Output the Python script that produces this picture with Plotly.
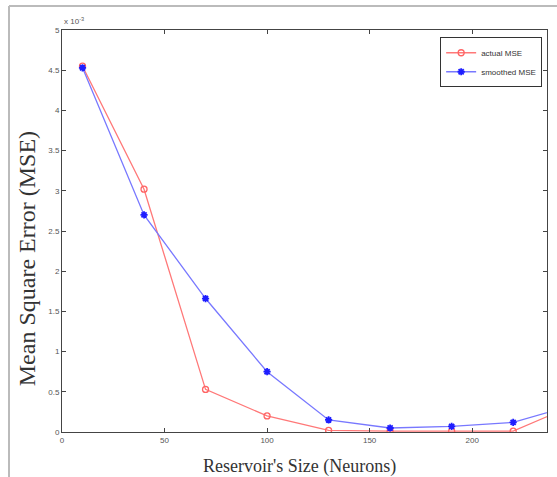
import plotly.graph_objects as go

neurons = [10, 40, 70, 100, 130, 160, 190, 220, 250]
actual_mse = [4.55, 3.02, 0.53, 0.20, 0.02, 0.01, 0.01, 0.01, 0.34]   # x 10^-3
smoothed_mse = [4.53, 2.70, 1.66, 0.75, 0.15, 0.05, 0.07, 0.12, 0.34]  # x 10^-3

x_ticks = [0, 50, 100, 150, 200]
y_ticks = [0, 0.5, 1, 1.5, 2, 2.5, 3, 3.5, 4, 4.5, 5]

fig = go.Figure()
fig.add_trace(go.Scatter(
    x=neurons, y=actual_mse, name="actual MSE", mode="lines+markers",
    line=dict(color="rgb(255,120,120)", width=1.3),
    marker=dict(symbol="circle-open", size=6, color="rgb(255,100,100)", line=dict(width=1.3)),
))
fig.add_trace(go.Scatter(
    x=neurons, y=smoothed_mse, name="smoothed MSE", mode="lines+markers",
    line=dict(color="rgb(120,120,255)", width=1.3),
    marker=dict(symbol="asterisk-open", size=6, color="rgb(30,30,255)",
                line=dict(width=1.8, color="rgb(30,30,255)")),
))

axis_common = dict(
    showgrid=False, zeroline=False, showline=True, linecolor="#444", linewidth=1,
    mirror="allticks", ticks="inside", ticklen=4, tickcolor="#444",
    tickfont=dict(family="Arial", size=8, color="#555"),
)
fig.update_xaxes(range=[0, 236.5], tickvals=x_ticks, **axis_common)
fig.update_yaxes(range=[0, 5], tickvals=y_ticks,
                 ticktext=[f"{v:g}" for v in y_ticks], **axis_common)

frame_left = (9 - 62) / 485
frame_top = 1 + 24 / 401

fig.update_layout(
    width=557, height=477,
    margin=dict(l=62, r=10, t=30, b=45),
    paper_bgcolor="white", plot_bgcolor="white",
    showlegend=True,
    legend=dict(x=0.99, y=0.982, xanchor="right", yanchor="top",
                bgcolor="white", bordercolor="#333", borderwidth=1,
                font=dict(family="Arial", size=8, color="#333"),
                tracegroupgap=0, itemwidth=30),
    annotations=[
        dict(text="x 10<sup>-3</sup>", x=0.0, y=1.0, xref="paper", yref="paper",
             showarrow=False, font=dict(family="Arial", size=8, color="#555"),
             xanchor="left", yanchor="bottom", yshift=2),
        dict(text="Reservoir's Size (Neurons)", x=0.49, y=-0.085, xref="paper", yref="paper",
             showarrow=False, font=dict(family="Liberation Serif", size=18, color="#333"),
             xanchor="center", yanchor="middle"),
        dict(text="Mean Square Error (MSE)", x=-0.072, y=0.43, xref="paper", yref="paper",
             showarrow=False, textangle=-90,
             font=dict(family="Liberation Serif", size=24, color="#333"),
             xanchor="center", yanchor="middle"),
    ],
    shapes=[
        dict(type="line", xref="paper", yref="paper", x0=frame_left, x1=1.05,
             y0=frame_top, y1=frame_top, line=dict(color="#bbb", width=2)),
        dict(type="line", xref="paper", yref="paper", x0=frame_left, x1=frame_left,
             y0=frame_top, y1=-0.2, line=dict(color="#bbb", width=2)),
    ],
)

fig.write_html("out.html", config={"displayModeBar": False},
               post_script="document.body.style.margin='0px';")
